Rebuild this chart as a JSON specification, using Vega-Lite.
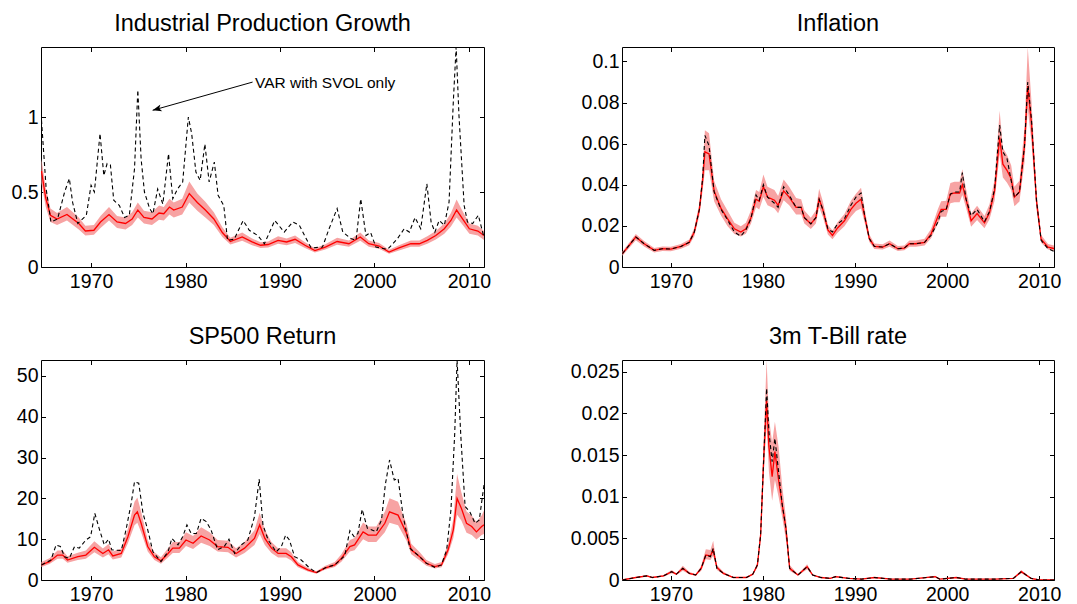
{
  "$schema": "https://vega.github.io/schema/vega-lite/v6.json",
  "background": "white",
  "padding": {"left": 0, "top": 11, "right": 5, "bottom": 5},
  "spacing": 28,
  "config": {
    "font": "Liberation Sans",
    "view": {"stroke": "#000000", "strokeWidth": 1},
    "axis": {
      "domain": false, "grid": false, "ticks": true, "tickSize": -4.5,
      "tickColor": "#000000", "tickWidth": 1,
      "labelFont": "Liberation Sans", "labelFontSize": 19.5, "labelColor": "#000000",
      "labelFlush": false, "labelOverlap": false
    },
    "title": {
      "font": "Liberation Sans", "fontSize": 23.5, "fontWeight": "normal", "color": "#000000",
      "anchor": "middle", "frame": "group", "baseline": "alphabetic", "offset": 10.7
    }
  },
  "datasets": {
    "ip_band": [
      {"t":1964.75,"lo":0.56,"m":0.64,"hi":0.72},{"t":1965.2,"lo":0.40,"m":0.46,"hi":0.53},
      {"t":1965.7,"lo":0.30,"m":0.345,"hi":0.39},{"t":1966.4,"lo":0.28,"m":0.32,"hi":0.36},
      {"t":1967.45,"lo":0.31,"m":0.35,"hi":0.40},{"t":1968.7,"lo":0.25,"m":0.29,"hi":0.33},
      {"t":1969.4,"lo":0.21,"m":0.24,"hi":0.275},{"t":1970.3,"lo":0.215,"m":0.245,"hi":0.28},
      {"t":1971.0,"lo":0.26,"m":0.30,"hi":0.34},{"t":1971.9,"lo":0.31,"m":0.35,"hi":0.40},
      {"t":1972.75,"lo":0.26,"m":0.30,"hi":0.34},{"t":1973.65,"lo":0.25,"m":0.29,"hi":0.33},
      {"t":1974.35,"lo":0.28,"m":0.32,"hi":0.365},{"t":1974.95,"lo":0.33,"m":0.38,"hi":0.43},
      {"t":1975.6,"lo":0.29,"m":0.33,"hi":0.375},{"t":1976.45,"lo":0.28,"m":0.32,"hi":0.365},
      {"t":1977.2,"lo":0.315,"m":0.36,"hi":0.41},{"t":1977.7,"lo":0.31,"m":0.355,"hi":0.40},
      {"t":1978.3,"lo":0.35,"m":0.40,"hi":0.455},{"t":1978.75,"lo":0.33,"m":0.38,"hi":0.43},
      {"t":1979.65,"lo":0.35,"m":0.40,"hi":0.455},{"t":1980.4,"lo":0.43,"m":0.49,"hi":0.57},
      {"t":1981.25,"lo":0.375,"m":0.43,"hi":0.49},{"t":1982.1,"lo":0.33,"m":0.38,"hi":0.435},
      {"t":1983.0,"lo":0.28,"m":0.32,"hi":0.365},{"t":1983.9,"lo":0.20,"m":0.23,"hi":0.265},
      {"t":1984.75,"lo":0.15,"m":0.17,"hi":0.195},{"t":1986.0,"lo":0.175,"m":0.20,"hi":0.23},
      {"t":1987.05,"lo":0.145,"m":0.167,"hi":0.19},{"t":1987.95,"lo":0.127,"m":0.145,"hi":0.165},
      {"t":1988.75,"lo":0.13,"m":0.15,"hi":0.17},{"t":1989.8,"lo":0.155,"m":0.178,"hi":0.205},
      {"t":1990.7,"lo":0.145,"m":0.167,"hi":0.19},{"t":1991.6,"lo":0.16,"m":0.185,"hi":0.21},
      {"t":1992.65,"lo":0.127,"m":0.145,"hi":0.165},{"t":1993.7,"lo":0.097,"m":0.11,"hi":0.125},
      {"t":1994.8,"lo":0.116,"m":0.133,"hi":0.152},{"t":1996.05,"lo":0.148,"m":0.17,"hi":0.195},
      {"t":1997.3,"lo":0.135,"m":0.155,"hi":0.177},{"t":1998.5,"lo":0.175,"m":0.20,"hi":0.23},
      {"t":1999.4,"lo":0.135,"m":0.155,"hi":0.177},{"t":2000.5,"lo":0.122,"m":0.14,"hi":0.16},
      {"t":2001.55,"lo":0.088,"m":0.10,"hi":0.115},{"t":2002.6,"lo":0.11,"m":0.127,"hi":0.145},
      {"t":2003.85,"lo":0.135,"m":0.155,"hi":0.177},{"t":2004.75,"lo":0.135,"m":0.155,"hi":0.177},
      {"t":2005.6,"lo":0.155,"m":0.178,"hi":0.205},{"t":2006.5,"lo":0.183,"m":0.21,"hi":0.24},
      {"t":2007.4,"lo":0.222,"m":0.255,"hi":0.29},{"t":2008.1,"lo":0.27,"m":0.31,"hi":0.36},
      {"t":2008.7,"lo":0.33,"m":0.38,"hi":0.45},{"t":2009.35,"lo":0.28,"m":0.32,"hi":0.37},
      {"t":2010.05,"lo":0.222,"m":0.255,"hi":0.29},{"t":2010.95,"lo":0.21,"m":0.24,"hi":0.275},
      {"t":2011.6,"lo":0.18,"m":0.21,"hi":0.24}
    ],
    "ip_sv": [
      {"t":1964.75,"s":0.98},{"t":1965.25,"s":0.52},{"t":1965.75,"s":0.30},{"t":1966.45,"s":0.32},
      {"t":1967.2,"s":0.50},{"t":1967.7,"s":0.59},{"t":1968.05,"s":0.43},{"t":1968.6,"s":0.29},
      {"t":1969.5,"s":0.345},{"t":1970.0,"s":0.545},{"t":1970.35,"s":0.50},{"t":1970.95,"s":0.89},
      {"t":1971.35,"s":0.61},{"t":1971.7,"s":0.69},{"t":1972.05,"s":0.68},{"t":1972.4,"s":0.445},
      {"t":1973.0,"s":0.41},{"t":1973.55,"s":0.33},{"t":1974.05,"s":0.345},{"t":1974.6,"s":0.655},
      {"t":1974.95,"s":1.18},{"t":1975.3,"s":0.72},{"t":1975.65,"s":0.50},{"t":1976.2,"s":0.39},
      {"t":1976.55,"s":0.355},{"t":1977.05,"s":0.52},{"t":1977.6,"s":0.42},{"t":1978.2,"s":0.755},
      {"t":1978.65,"s":0.455},{"t":1979.15,"s":0.52},{"t":1979.7,"s":0.567},{"t":1980.3,"s":1.0},
      {"t":1980.65,"s":0.89},{"t":1981.1,"s":0.633},{"t":1981.55,"s":0.578},{"t":1982.05,"s":0.82},
      {"t":1982.5,"s":0.567},{"t":1983.05,"s":0.70},{"t":1983.45,"s":0.478},{"t":1984.05,"s":0.41},
      {"t":1984.45,"s":0.178},{"t":1985.15,"s":0.185},{"t":1986.1,"s":0.31},{"t":1986.75,"s":0.245},
      {"t":1987.65,"s":0.21},{"t":1988.35,"s":0.155},{"t":1989.45,"s":0.31},{"t":1990.45,"s":0.233},
      {"t":1991.35,"s":0.30},{"t":1992.05,"s":0.278},{"t":1992.6,"s":0.21},{"t":1993.3,"s":0.127},
      {"t":1994.5,"s":0.133},{"t":1995.2,"s":0.255},{"t":1996.05,"s":0.39},{"t":1996.65,"s":0.233},
      {"t":1997.5,"s":0.19},{"t":1998.05,"s":0.178},{"t":1998.55,"s":0.455},{"t":1999.1,"s":0.21},
      {"t":1999.6,"s":0.23},{"t":2000.15,"s":0.133},{"t":2001.4,"s":0.118},{"t":2002.45,"s":0.19},
      {"t":2003.15,"s":0.255},{"t":2003.7,"s":0.233},{"t":2004.3,"s":0.33},{"t":2004.9,"s":0.255},
      {"t":2005.55,"s":0.555},{"t":2006.0,"s":0.30},{"t":2006.4,"s":0.233},{"t":2006.85,"s":0.31},
      {"t":2007.4,"s":0.278},{"t":2007.9,"s":0.433},{"t":2008.35,"s":1.1},{"t":2008.65,"s":1.467},
      {"t":2008.95,"s":1.01},{"t":2009.5,"s":0.41},{"t":2009.85,"s":0.30},{"t":2010.4,"s":0.29},
      {"t":2011.0,"s":0.345},{"t":2011.55,"s":0.21}
    ],
    "ip_note": [
      {"t0":1976.52,"v0":1.045,"t1":1987.1,"v1":1.233,"tx":1987.35,"vx":1.227,"label":"VAR with SVOL only"}
    ],
    "inf_band": [
      {"t":1964.75,"lo":0.0055,"m":0.0065,"hi":0.0075},{"t":1966.2,"lo":0.0130,"m":0.0146,"hi":0.0160},
      {"t":1967.1,"lo":0.0100,"m":0.0113,"hi":0.0126},{"t":1968.2,"lo":0.0070,"m":0.0081,"hi":0.0092},
      {"t":1969.1,"lo":0.0078,"m":0.0089,"hi":0.0100},{"t":1970.0,"lo":0.0077,"m":0.0087,"hi":0.0098},
      {"t":1971.1,"lo":0.0089,"m":0.0100,"hi":0.0112},{"t":1972.0,"lo":0.0106,"m":0.0120,"hi":0.0134},
      {"t":1972.55,"lo":0.0150,"m":0.0170,"hi":0.0190},{"t":1973.1,"lo":0.0250,"m":0.0280,"hi":0.0310},
      {"t":1973.45,"lo":0.0370,"m":0.0420,"hi":0.0470},{"t":1973.7,"lo":0.0470,"m":0.0560,"hi":0.0665},
      {"t":1974.15,"lo":0.0470,"m":0.0550,"hi":0.0650},{"t":1974.7,"lo":0.0320,"m":0.0370,"hi":0.0420},
      {"t":1975.45,"lo":0.0250,"m":0.0285,"hi":0.0330},{"t":1976.15,"lo":0.0200,"m":0.0235,"hi":0.0275},
      {"t":1976.9,"lo":0.0160,"m":0.0186,"hi":0.0215},{"t":1977.6,"lo":0.0148,"m":0.0170,"hi":0.0198},
      {"t":1978.15,"lo":0.0162,"m":0.0186,"hi":0.0215},{"t":1978.7,"lo":0.0210,"m":0.0240,"hi":0.0275},
      {"t":1979.25,"lo":0.0290,"m":0.0330,"hi":0.0375},{"t":1979.6,"lo":0.0280,"m":0.0320,"hi":0.0365},
      {"t":1980.05,"lo":0.0340,"m":0.0390,"hi":0.0450},{"t":1980.5,"lo":0.0300,"m":0.0340,"hi":0.0390},
      {"t":1981.25,"lo":0.0285,"m":0.0325,"hi":0.0375},{"t":1981.65,"lo":0.0262,"m":0.0300,"hi":0.0345},
      {"t":1982.25,"lo":0.0325,"m":0.0370,"hi":0.0425},{"t":1982.85,"lo":0.0300,"m":0.0340,"hi":0.0390},
      {"t":1983.6,"lo":0.0255,"m":0.0290,"hi":0.0335},{"t":1984.15,"lo":0.0255,"m":0.0290,"hi":0.0330},
      {"t":1984.5,"lo":0.0212,"m":0.0240,"hi":0.0275},{"t":1985.2,"lo":0.0185,"m":0.0210,"hi":0.0240},
      {"t":1985.75,"lo":0.0212,"m":0.0240,"hi":0.0275},{"t":1986.1,"lo":0.0290,"m":0.0330,"hi":0.0380},
      {"t":1986.5,"lo":0.0245,"m":0.0280,"hi":0.0320},{"t":1987.05,"lo":0.0158,"m":0.0180,"hi":0.0206},
      {"t":1987.55,"lo":0.0135,"m":0.0154,"hi":0.0178},{"t":1988.1,"lo":0.0167,"m":0.0190,"hi":0.0218},
      {"t":1988.85,"lo":0.0198,"m":0.0225,"hi":0.0258},{"t":1989.55,"lo":0.0245,"m":0.0280,"hi":0.0322},
      {"t":1990.1,"lo":0.0272,"m":0.0310,"hi":0.0356},{"t":1990.65,"lo":0.0285,"m":0.0330,"hi":0.0385},
      {"t":1991.1,"lo":0.0206,"m":0.0235,"hi":0.0270},{"t":1991.55,"lo":0.0121,"m":0.0138,"hi":0.0158},
      {"t":1992.1,"lo":0.0088,"m":0.0100,"hi":0.0114},{"t":1993.0,"lo":0.0085,"m":0.0097,"hi":0.0111},
      {"t":1993.75,"lo":0.0099,"m":0.0113,"hi":0.0129},{"t":1994.65,"lo":0.0078,"m":0.0089,"hi":0.0102},
      {"t":1995.35,"lo":0.0081,"m":0.0092,"hi":0.0105},{"t":1995.9,"lo":0.0099,"m":0.0113,"hi":0.0129},
      {"t":1996.6,"lo":0.0099,"m":0.0113,"hi":0.0129},{"t":1997.55,"lo":0.0105,"m":0.0120,"hi":0.0137},
      {"t":1998.25,"lo":0.0140,"m":0.0160,"hi":0.0185},{"t":1999.0,"lo":0.0212,"m":0.0245,"hi":0.0282},
      {"t":1999.35,"lo":0.0245,"m":0.0280,"hi":0.0320},{"t":1999.9,"lo":0.0245,"m":0.0280,"hi":0.0322},
      {"t":2000.35,"lo":0.0310,"m":0.0355,"hi":0.0408},{"t":2000.8,"lo":0.0315,"m":0.0360,"hi":0.0415},
      {"t":2001.35,"lo":0.0315,"m":0.0360,"hi":0.0415},{"t":2001.65,"lo":0.0350,"m":0.0400,"hi":0.0475},
      {"t":2002.05,"lo":0.0288,"m":0.0330,"hi":0.0380},{"t":2002.6,"lo":0.0196,"m":0.0225,"hi":0.0260},
      {"t":2003.25,"lo":0.0228,"m":0.0260,"hi":0.0298},{"t":2004.05,"lo":0.0188,"m":0.0215,"hi":0.0248},
      {"t":2004.6,"lo":0.0232,"m":0.0265,"hi":0.0305},{"t":2005.15,"lo":0.0322,"m":0.0370,"hi":0.0425},
      {"t":2005.7,"lo":0.0550,"m":0.0630,"hi":0.0760},{"t":2006.05,"lo":0.0435,"m":0.0500,"hi":0.0580},
      {"t":2006.5,"lo":0.0410,"m":0.0470,"hi":0.0545},{"t":2006.95,"lo":0.0375,"m":0.0430,"hi":0.0495},
      {"t":2007.3,"lo":0.0295,"m":0.0340,"hi":0.0390},{"t":2007.85,"lo":0.0318,"m":0.0365,"hi":0.0420},
      {"t":2008.4,"lo":0.0510,"m":0.0590,"hi":0.0680},{"t":2008.75,"lo":0.0770,"m":0.0880,"hi":0.1070},
      {"t":2009.15,"lo":0.0610,"m":0.0700,"hi":0.0810},{"t":2009.7,"lo":0.0280,"m":0.0320,"hi":0.0370},
      {"t":2010.2,"lo":0.0118,"m":0.0135,"hi":0.0156},{"t":2010.95,"lo":0.0085,"m":0.0097,"hi":0.0112},
      {"t":2011.6,"lo":0.0078,"m":0.0090,"hi":0.0104}
    ],
    "inf_sv": [
      {"t":1964.75,"s":0.0065},{"t":1966.2,"s":0.0146},{"t":1967.1,"s":0.0113},{"t":1968.2,"s":0.0081},
      {"t":1969.1,"s":0.0089},{"t":1970.0,"s":0.0087},{"t":1971.1,"s":0.0100},{"t":1972.0,"s":0.0120},
      {"t":1972.55,"s":0.0170},{"t":1973.1,"s":0.0280},{"t":1973.45,"s":0.0430},{"t":1973.7,"s":0.0640},
      {"t":1974.15,"s":0.0590},{"t":1974.7,"s":0.0365},{"t":1975.45,"s":0.0280},{"t":1976.15,"s":0.0230},
      {"t":1976.9,"s":0.0170},{"t":1977.6,"s":0.0150},{"t":1978.15,"s":0.0180},{"t":1978.7,"s":0.0235},
      {"t":1979.25,"s":0.0350},{"t":1979.6,"s":0.0325},{"t":1980.05,"s":0.0400},{"t":1980.5,"s":0.0340},
      {"t":1981.25,"s":0.0310},{"t":1981.65,"s":0.0290},{"t":1982.25,"s":0.0390},{"t":1982.85,"s":0.0350},
      {"t":1983.6,"s":0.0290},{"t":1984.15,"s":0.0290},{"t":1984.5,"s":0.0240},{"t":1985.2,"s":0.0210},
      {"t":1985.75,"s":0.0240},{"t":1986.1,"s":0.0330},{"t":1986.5,"s":0.0280},{"t":1987.05,"s":0.0186},
      {"t":1987.55,"s":0.0170},{"t":1988.1,"s":0.0210},{"t":1988.85,"s":0.0235},{"t":1989.55,"s":0.0300},
      {"t":1990.1,"s":0.0340},{"t":1990.65,"s":0.0360},{"t":1991.1,"s":0.0235},{"t":1991.55,"s":0.0138},
      {"t":1992.1,"s":0.0100},{"t":1993.0,"s":0.0097},{"t":1993.75,"s":0.0113},{"t":1994.65,"s":0.0089},
      {"t":1995.35,"s":0.0092},{"t":1995.9,"s":0.0113},{"t":1996.6,"s":0.0113},{"t":1997.55,"s":0.0120},
      {"t":1998.25,"s":0.0154},{"t":1999.0,"s":0.0219},{"t":1999.35,"s":0.0270},{"t":1999.9,"s":0.0280},
      {"t":2000.35,"s":0.0355},{"t":2000.8,"s":0.0365},{"t":2001.35,"s":0.0365},{"t":2001.65,"s":0.0459},
      {"t":2002.05,"s":0.0330},{"t":2002.6,"s":0.0250},{"t":2003.25,"s":0.0280},{"t":2004.05,"s":0.0220},
      {"t":2004.6,"s":0.0270},{"t":2005.15,"s":0.0380},{"t":2005.7,"s":0.0690},{"t":2006.05,"s":0.0560},
      {"t":2006.5,"s":0.0527},{"t":2006.95,"s":0.0420},{"t":2007.3,"s":0.0340},{"t":2007.85,"s":0.0365},
      {"t":2008.4,"s":0.0590},{"t":2008.75,"s":0.0900},{"t":2009.15,"s":0.0720},{"t":2009.7,"s":0.0324},
      {"t":2010.2,"s":0.0130},{"t":2010.95,"s":0.0089},{"t":2011.6,"s":0.0076}
    ],
    "sp_band": [
      {"t":1964.75,"lo":3.2,"m":3.7,"hi":4.4},{"t":1965.6,"lo":3.9,"m":4.5,"hi":5.3},
      {"t":1966.45,"lo":5.2,"m":6.1,"hi":7.2},{"t":1967.0,"lo":5.2,"m":6.1,"hi":7.2},
      {"t":1967.5,"lo":4.2,"m":4.9,"hi":5.8},{"t":1968.6,"lo":4.9,"m":5.7,"hi":6.7},
      {"t":1969.45,"lo":5.2,"m":6.1,"hi":7.2},{"t":1970.35,"lo":6.8,"m":8.0,"hi":9.5},
      {"t":1971.25,"lo":5.5,"m":6.5,"hi":7.7},{"t":1971.85,"lo":6.3,"m":7.4,"hi":8.8},
      {"t":1972.3,"lo":5.0,"m":5.9,"hi":7.0},{"t":1973.2,"lo":5.5,"m":6.5,"hi":7.7},
      {"t":1973.9,"lo":9.0,"m":10.6,"hi":12.6},{"t":1974.6,"lo":13.4,"m":15.9,"hi":19.2},
      {"t":1974.9,"lo":14.0,"m":16.7,"hi":20.2},{"t":1975.3,"lo":11.7,"m":13.9,"hi":16.8},
      {"t":1976.0,"lo":7.0,"m":8.2,"hi":9.8},{"t":1976.7,"lo":4.9,"m":5.7,"hi":6.8},
      {"t":1977.4,"lo":4.0,"m":4.7,"hi":5.6},{"t":1978.15,"lo":5.5,"m":6.5,"hi":7.8},
      {"t":1978.65,"lo":6.6,"m":7.8,"hi":9.3},{"t":1979.35,"lo":6.6,"m":7.8,"hi":9.3},
      {"t":1980.05,"lo":8.3,"m":9.8,"hi":11.7},{"t":1980.8,"lo":7.6,"m":9.0,"hi":10.8},
      {"t":1981.65,"lo":9.1,"m":10.8,"hi":12.9},{"t":1982.55,"lo":8.3,"m":9.8,"hi":11.7},
      {"t":1983.4,"lo":7.0,"m":8.2,"hi":9.8},{"t":1984.5,"lo":6.8,"m":8.0,"hi":9.6},
      {"t":1985.35,"lo":5.5,"m":6.5,"hi":7.8},{"t":1986.25,"lo":6.6,"m":7.8,"hi":9.3},
      {"t":1987.3,"lo":8.6,"m":10.2,"hi":12.2},{"t":1987.85,"lo":11.3,"m":13.5,"hi":16.5},
      {"t":1988.4,"lo":8.6,"m":10.2,"hi":12.3},{"t":1989.1,"lo":6.6,"m":7.8,"hi":9.3},
      {"t":1989.8,"lo":5.5,"m":6.5,"hi":7.8},{"t":1990.65,"lo":5.5,"m":6.5,"hi":7.8},
      {"t":1991.2,"lo":4.8,"m":5.7,"hi":6.8},{"t":1991.9,"lo":3.1,"m":3.7,"hi":4.4},
      {"t":1992.95,"lo":2.1,"m":2.5,"hi":3.0},{"t":1993.85,"lo":1.55,"m":1.8,"hi":2.15},
      {"t":1994.75,"lo":2.5,"m":2.9,"hi":3.4},{"t":1995.8,"lo":3.2,"m":3.7,"hi":4.4},
      {"t":1996.5,"lo":4.5,"m":5.3,"hi":6.3},{"t":1997.4,"lo":7.0,"m":8.2,"hi":9.8},
      {"t":1997.9,"lo":7.3,"m":8.6,"hi":10.3},{"t":1998.8,"lo":10.0,"m":11.8,"hi":14.1},
      {"t":1999.35,"lo":9.3,"m":11.0,"hi":13.1},{"t":2000.2,"lo":9.3,"m":11.0,"hi":13.1},
      {"t":2001.1,"lo":11.7,"m":13.9,"hi":16.7},{"t":2001.6,"lo":14.0,"m":16.7,"hi":20.0},
      {"t":2002.5,"lo":13.4,"m":15.9,"hi":19.2},{"t":2003.4,"lo":9.6,"m":11.4,"hi":13.7},
      {"t":2003.9,"lo":6.3,"m":7.4,"hi":8.9},{"t":2004.8,"lo":4.8,"m":5.7,"hi":6.8},
      {"t":2005.5,"lo":3.5,"m":4.1,"hi":4.9},{"t":2006.4,"lo":2.8,"m":3.3,"hi":3.9},
      {"t":2007.1,"lo":3.1,"m":3.7,"hi":4.4},{"t":2007.8,"lo":6.3,"m":7.4,"hi":8.9},
      {"t":2008.35,"lo":10.3,"m":12.3,"hi":14.9},{"t":2008.75,"lo":16.0,"m":20.0,"hi":26.0},
      {"t":2009.2,"lo":14.6,"m":17.6,"hi":21.5},{"t":2009.75,"lo":11.6,"m":13.9,"hi":16.8},
      {"t":2010.3,"lo":11.0,"m":13.1,"hi":15.8},{"t":2010.8,"lo":9.9,"m":11.8,"hi":14.2},
      {"t":2011.35,"lo":11.0,"m":13.1,"hi":15.8},{"t":2011.6,"lo":11.3,"m":13.5,"hi":17.0}
    ],
    "sp_sv": [
      {"t":1964.75,"s":3.7},{"t":1965.75,"s":4.9},{"t":1966.3,"s":8.6},{"t":1966.75,"s":8.2},
      {"t":1967.2,"s":5.7},{"t":1967.7,"s":5.3},{"t":1968.25,"s":8.2},{"t":1968.75,"s":7.8},
      {"t":1969.45,"s":9.8},{"t":1969.95,"s":10.6},{"t":1970.4,"s":16.3},{"t":1970.9,"s":12.3},
      {"t":1971.4,"s":8.6},{"t":1971.85,"s":10.0},{"t":1972.2,"s":7.4},{"t":1973.2,"s":7.2},
      {"t":1973.7,"s":12.3},{"t":1974.25,"s":18.8},{"t":1974.6,"s":24.1},{"t":1975.05,"s":23.7},
      {"t":1975.5,"s":16.3},{"t":1976.0,"s":12.3},{"t":1976.55,"s":6.9},{"t":1977.4,"s":4.5},
      {"t":1978.15,"s":6.9},{"t":1978.55,"s":10.2},{"t":1979.2,"s":8.6},{"t":1979.7,"s":10.6},
      {"t":1980.15,"s":13.5},{"t":1980.6,"s":11.4},{"t":1981.15,"s":11.4},{"t":1981.65,"s":15.1},
      {"t":1982.2,"s":14.3},{"t":1982.7,"s":12.3},{"t":1983.4,"s":7.4},{"t":1984.1,"s":8.2},
      {"t":1984.6,"s":10.0},{"t":1985.2,"s":6.5},{"t":1985.9,"s":8.6},{"t":1986.6,"s":9.8},
      {"t":1987.3,"s":15.5},{"t":1987.8,"s":24.7},{"t":1988.2,"s":13.5},{"t":1988.75,"s":9.8},
      {"t":1989.6,"s":6.9},{"t":1990.15,"s":8.2},{"t":1990.6,"s":11.0},{"t":1991.0,"s":9.8},
      {"t":1991.55,"s":5.7},{"t":1992.25,"s":4.9},{"t":1993.15,"s":2.9},{"t":1993.85,"s":1.8},
      {"t":1994.9,"s":3.1},{"t":1995.8,"s":3.7},{"t":1996.85,"s":5.9},{"t":1997.4,"s":12.1},
      {"t":1997.85,"s":10.6},{"t":1998.25,"s":11.4},{"t":1998.7,"s":17.3},{"t":1999.25,"s":12.7},
      {"t":2000.2,"s":11.8},{"t":2000.75,"s":14.7},{"t":2001.15,"s":23.3},{"t":2001.6,"s":29.4},
      {"t":2002.1,"s":24.5},{"t":2002.5,"s":24.9},{"t":2003.05,"s":15.5},{"t":2003.75,"s":7.8},
      {"t":2004.6,"s":6.1},{"t":2005.5,"s":4.1},{"t":2006.4,"s":3.1},{"t":2007.1,"s":3.7},
      {"t":2007.65,"s":7.4},{"t":2008.1,"s":17.2},{"t":2008.5,"s":35.9},{"t":2008.75,"s":53.9},
      {"t":2009.15,"s":35.1},{"t":2009.6,"s":18.0},{"t":2010.1,"s":16.7},{"t":2010.65,"s":13.9},
      {"t":2011.1,"s":14.7},{"t":2011.6,"s":23.3}
    ],
    "tb_band": [
      {"t":1964.75,"lo":0.0,"m":0.0,"hi":0.0001},{"t":1966.2,"lo":0.00025,"m":0.0003,"hi":0.00035},
      {"t":1967.4,"lo":0.0004,"m":0.0005,"hi":0.0006},{"t":1968.0,"lo":0.00025,"m":0.0003,"hi":0.00035},
      {"t":1969.2,"lo":0.0004,"m":0.0005,"hi":0.0006},{"t":1970.1,"lo":0.0008,"m":0.0010,"hi":0.0012},
      {"t":1970.6,"lo":0.0006,"m":0.0007,"hi":0.0008},{"t":1971.3,"lo":0.0011,"m":0.0014,"hi":0.0017},
      {"t":1972.0,"lo":0.0007,"m":0.0008,"hi":0.0010},{"t":1972.7,"lo":0.0005,"m":0.0006,"hi":0.0007},
      {"t":1973.3,"lo":0.0011,"m":0.0014,"hi":0.0017},{"t":1973.8,"lo":0.0025,"m":0.0030,"hi":0.0037},
      {"t":1974.3,"lo":0.0024,"m":0.0029,"hi":0.0036},{"t":1974.6,"lo":0.0029,"m":0.0036,"hi":0.0047},
      {"t":1975.0,"lo":0.0012,"m":0.0015,"hi":0.0018},{"t":1975.7,"lo":0.0007,"m":0.0008,"hi":0.0010},
      {"t":1976.8,"lo":0.00025,"m":0.0003,"hi":0.00035},{"t":1978.2,"lo":0.00025,"m":0.0003,"hi":0.00035},
      {"t":1978.9,"lo":0.0006,"m":0.0007,"hi":0.0008},{"t":1979.4,"lo":0.0015,"m":0.0018,"hi":0.0021},
      {"t":1979.75,"lo":0.0047,"m":0.0054,"hi":0.0062},{"t":1980.1,"lo":0.0130,"m":0.0150,"hi":0.0175},
      {"t":1980.4,"lo":0.0185,"m":0.0215,"hi":0.0264},{"t":1980.65,"lo":0.0130,"m":0.0160,"hi":0.0195},
      {"t":1981.0,"lo":0.0095,"m":0.0124,"hi":0.0165},{"t":1981.3,"lo":0.0120,"m":0.0154,"hi":0.0190},
      {"t":1981.7,"lo":0.0100,"m":0.0120,"hi":0.0160},{"t":1982.1,"lo":0.0075,"m":0.0090,"hi":0.0112},
      {"t":1982.5,"lo":0.0048,"m":0.0062,"hi":0.0075},{"t":1982.9,"lo":0.0011,"m":0.0014,"hi":0.0018},
      {"t":1983.8,"lo":0.0005,"m":0.0006,"hi":0.0007},{"t":1984.8,"lo":0.0013,"m":0.0016,"hi":0.0019},
      {"t":1985.4,"lo":0.0005,"m":0.0006,"hi":0.0007},{"t":1986.3,"lo":0.00025,"m":0.0003,"hi":0.00035},
      {"t":1987.3,"lo":0.00015,"m":0.0002,"hi":0.00025},{"t":1987.9,"lo":0.0003,"m":0.0004,"hi":0.0005},
      {"t":1989.3,"lo":0.00015,"m":0.0002,"hi":0.00025},{"t":1990.7,"lo":0.00008,"m":0.0001,"hi":0.00012},
      {"t":1992.1,"lo":0.00025,"m":0.0003,"hi":0.00035},{"t":1993.9,"lo":0.00008,"m":0.0001,"hi":0.00012},
      {"t":1996.0,"lo":0.00008,"m":0.0001,"hi":0.00012},{"t":1998.7,"lo":0.0003,"m":0.0004,"hi":0.0005},
      {"t":1999.2,"lo":0.00008,"m":0.0001,"hi":0.00012},{"t":2001.0,"lo":0.00025,"m":0.0003,"hi":0.00035},
      {"t":2002.0,"lo":0.00008,"m":0.0001,"hi":0.00012},{"t":2005.2,"lo":0.00008,"m":0.0001,"hi":0.00012},
      {"t":2007.2,"lo":0.00015,"m":0.0002,"hi":0.00025},{"t":2008.05,"lo":0.0008,"m":0.0010,"hi":0.0012},
      {"t":2009.1,"lo":0.00015,"m":0.0002,"hi":0.00025},{"t":2010.0,"lo":0.0,"m":0.0,"hi":0.00005},
      {"t":2011.6,"lo":0.0,"m":0.0,"hi":0.00005}
    ],
    "tb_sv": [
      {"t":1964.75,"s":0.0},{"t":1966.2,"s":0.0003},{"t":1967.4,"s":0.0005},{"t":1968.0,"s":0.0003},
      {"t":1969.2,"s":0.0005},{"t":1970.1,"s":0.0010},{"t":1970.6,"s":0.0007},{"t":1971.3,"s":0.0014},
      {"t":1972.0,"s":0.0008},{"t":1972.7,"s":0.0006},{"t":1973.3,"s":0.0014},{"t":1973.8,"s":0.0030},
      {"t":1974.3,"s":0.0028},{"t":1974.6,"s":0.0038},{"t":1975.0,"s":0.0014},{"t":1975.7,"s":0.0008},
      {"t":1976.8,"s":0.0003},{"t":1978.2,"s":0.0003},{"t":1978.9,"s":0.0007},{"t":1979.4,"s":0.0018},
      {"t":1979.75,"s":0.0054},{"t":1980.1,"s":0.0150},{"t":1980.4,"s":0.0230},{"t":1980.65,"s":0.0178},
      {"t":1981.0,"s":0.0142},{"t":1981.3,"s":0.0170},{"t":1981.7,"s":0.0130},{"t":1982.1,"s":0.0090},
      {"t":1982.5,"s":0.0062},{"t":1982.9,"s":0.0014},{"t":1983.8,"s":0.0006},{"t":1984.8,"s":0.0016},
      {"t":1985.4,"s":0.0006},{"t":1986.3,"s":0.0003},{"t":1987.3,"s":0.0002},{"t":1987.9,"s":0.0004},
      {"t":1989.3,"s":0.0002},{"t":1990.7,"s":0.0001},{"t":1992.1,"s":0.0003},{"t":1993.9,"s":0.0001},
      {"t":1996.0,"s":0.0001},{"t":1998.7,"s":0.0004},{"t":1999.2,"s":0.0001},{"t":2001.0,"s":0.0003},
      {"t":2002.0,"s":0.0001},{"t":2005.2,"s":0.0001},{"t":2007.2,"s":0.0002},{"t":2008.05,"s":0.0010},
      {"t":2009.1,"s":0.0002},{"t":2010.0,"s":0.0},{"t":2011.6,"s":0.0}
    ]
  },
  "vconcat": [
    {
      "spacing": 69,
      "hconcat": [
        {
          "width": 443, "height": 220,
          "title": "Industrial Production Growth",
          "layer": [
            {"data": {"name": "ip_band"}, "mark": {"type": "area", "color": "#F7A3A3", "opacity": 1, "clip": true},
             "encoding": {
               "x": {"field": "t", "type": "quantitative", "scale": {"domain": [1964.7, 2011.6], "nice": false, "zero": false},
                     "axis": {"orient": "bottom", "title": null, "values": [1970, 1980, 1990, 2000, 2010], "format": "d", "labelPadding": 9.5, "minExtent": 28, "maxExtent": 28}},
               "y": {"field": "lo", "type": "quantitative", "scale": {"domain": [0, 1.467], "nice": false, "zero": false},
                     "axis": {"orient": "left", "title": null, "values": [0, 0.5, 1], "format": "~f", "labelPadding": 7.5, "minExtent": 40, "maxExtent": 40}},
               "y2": {"field": "hi"}}},
            {"data": {"name": "ip_band"}, "mark": {"type": "line", "color": "#FF0000", "strokeWidth": 1.3, "clip": true},
             "encoding": {
               "x": {"field": "t", "type": "quantitative", "scale": {"domain": [1964.7, 2011.6], "nice": false, "zero": false}, "axis": null},
               "y": {"field": "m", "type": "quantitative", "scale": {"domain": [0, 1.467], "nice": false, "zero": false}, "axis": null}}},
            {"data": {"name": "ip_sv"}, "mark": {"type": "line", "color": "#000000", "strokeWidth": 1.1, "strokeDash": [4, 3], "clip": true},
             "encoding": {
               "x": {"field": "t", "type": "quantitative", "scale": {"domain": [1964.7, 2011.6], "nice": false, "zero": false},
                     "axis": {"orient": "top", "title": null, "values": [1970, 1980, 1990, 2000, 2010], "labels": false, "minExtent": 0, "maxExtent": 0}},
               "y": {"field": "s", "type": "quantitative", "scale": {"domain": [0, 1.467], "nice": false, "zero": false},
                     "axis": {"orient": "right", "title": null, "values": [0, 0.5, 1], "labels": false, "minExtent": 0, "maxExtent": 0}}}},
            {"data": {"name": "ip_note"}, "mark": {"type": "rule", "color": "#000000", "strokeWidth": 1},
             "encoding": {
               "x": {"field": "t0", "type": "quantitative", "scale": {"domain": [1964.7, 2011.6], "nice": false, "zero": false}, "axis": null},
               "y": {"field": "v0", "type": "quantitative", "scale": {"domain": [0, 1.467], "nice": false, "zero": false}, "axis": null},
               "x2": {"field": "t1"}, "y2": {"field": "v1"}}},
            {"data": {"name": "ip_note"}, "mark": {"type": "point", "shape": "M0,0L1,-0.38L0.75,0L1,0.38Z", "filled": true, "color": "#000000", "opacity": 1, "size": 324, "angle": 344.4},
             "encoding": {
               "x": {"field": "t0", "type": "quantitative", "scale": {"domain": [1964.7, 2011.6], "nice": false, "zero": false}, "axis": null},
               "y": {"field": "v0", "type": "quantitative", "scale": {"domain": [0, 1.467], "nice": false, "zero": false}, "axis": null}}},
            {"data": {"name": "ip_note"}, "mark": {"type": "text", "align": "left", "baseline": "middle", "font": "Liberation Sans", "fontSize": 15.5, "color": "#000000"},
             "encoding": {
               "x": {"field": "tx", "type": "quantitative", "scale": {"domain": [1964.7, 2011.6], "nice": false, "zero": false}, "axis": null},
               "y": {"field": "vx", "type": "quantitative", "scale": {"domain": [0, 1.467], "nice": false, "zero": false}, "axis": null},
               "text": {"field": "label"}}}
          ],
          "resolve": {"axis": {"x": "independent", "y": "independent"}}
        },
        {
          "width": 432, "height": 220,
          "title": "Inflation",
          "layer": [
            {"data": {"name": "inf_band"}, "mark": {"type": "area", "color": "#F7A3A3", "opacity": 1, "clip": true},
             "encoding": {
               "x": {"field": "t", "type": "quantitative", "scale": {"domain": [1964.7, 2011.6], "nice": false, "zero": false},
                     "axis": {"orient": "bottom", "title": null, "values": [1970, 1980, 1990, 2000, 2010], "format": "d", "labelPadding": 9.5, "minExtent": 28, "maxExtent": 28}},
               "y": {"field": "lo", "type": "quantitative", "scale": {"domain": [0, 0.107], "nice": false, "zero": false},
                     "axis": {"orient": "left", "title": null, "values": [0, 0.02, 0.04, 0.06, 0.08, 0.1], "format": "~f", "labelPadding": 7.5, "minExtent": 60, "maxExtent": 60}},
               "y2": {"field": "hi"}}},
            {"data": {"name": "inf_band"}, "mark": {"type": "line", "color": "#FF0000", "strokeWidth": 1.3, "clip": true},
             "encoding": {
               "x": {"field": "t", "type": "quantitative", "scale": {"domain": [1964.7, 2011.6], "nice": false, "zero": false}, "axis": null},
               "y": {"field": "m", "type": "quantitative", "scale": {"domain": [0, 0.107], "nice": false, "zero": false}, "axis": null}}},
            {"data": {"name": "inf_sv"}, "mark": {"type": "line", "color": "#000000", "strokeWidth": 1.1, "strokeDash": [4, 3], "clip": true},
             "encoding": {
               "x": {"field": "t", "type": "quantitative", "scale": {"domain": [1964.7, 2011.6], "nice": false, "zero": false},
                     "axis": {"orient": "top", "title": null, "values": [1970, 1980, 1990, 2000, 2010], "labels": false, "minExtent": 0, "maxExtent": 0}},
               "y": {"field": "s", "type": "quantitative", "scale": {"domain": [0, 0.107], "nice": false, "zero": false},
                     "axis": {"orient": "right", "title": null, "values": [0, 0.02, 0.04, 0.06, 0.08, 0.1], "labels": false, "minExtent": 0, "maxExtent": 0}}}}
          ],
          "resolve": {"axis": {"x": "independent", "y": "independent"}}
        }
      ]
    },
    {
      "spacing": 69,
      "hconcat": [
        {
          "width": 443, "height": 220,
          "title": "SP500 Return",
          "layer": [
            {"data": {"name": "sp_band"}, "mark": {"type": "area", "color": "#F7A3A3", "opacity": 1, "clip": true},
             "encoding": {
               "x": {"field": "t", "type": "quantitative", "scale": {"domain": [1964.7, 2011.6], "nice": false, "zero": false},
                     "axis": {"orient": "bottom", "title": null, "values": [1970, 1980, 1990, 2000, 2010], "format": "d", "labelPadding": 9.5, "minExtent": 28, "maxExtent": 28}},
               "y": {"field": "lo", "type": "quantitative", "scale": {"domain": [0, 53.9], "nice": false, "zero": false},
                     "axis": {"orient": "left", "title": null, "values": [0, 10, 20, 30, 40, 50], "format": "~f", "labelPadding": 7.5, "minExtent": 40, "maxExtent": 40}},
               "y2": {"field": "hi"}}},
            {"data": {"name": "sp_band"}, "mark": {"type": "line", "color": "#FF0000", "strokeWidth": 1.3, "clip": true},
             "encoding": {
               "x": {"field": "t", "type": "quantitative", "scale": {"domain": [1964.7, 2011.6], "nice": false, "zero": false}, "axis": null},
               "y": {"field": "m", "type": "quantitative", "scale": {"domain": [0, 53.9], "nice": false, "zero": false}, "axis": null}}},
            {"data": {"name": "sp_sv"}, "mark": {"type": "line", "color": "#000000", "strokeWidth": 1.1, "strokeDash": [4, 3], "clip": true},
             "encoding": {
               "x": {"field": "t", "type": "quantitative", "scale": {"domain": [1964.7, 2011.6], "nice": false, "zero": false},
                     "axis": {"orient": "top", "title": null, "values": [1970, 1980, 1990, 2000, 2010], "labels": false, "minExtent": 0, "maxExtent": 0}},
               "y": {"field": "s", "type": "quantitative", "scale": {"domain": [0, 53.9], "nice": false, "zero": false},
                     "axis": {"orient": "right", "title": null, "values": [0, 10, 20, 30, 40, 50], "labels": false, "minExtent": 0, "maxExtent": 0}}}}
          ],
          "resolve": {"axis": {"x": "independent", "y": "independent"}}
        },
        {
          "width": 432, "height": 220,
          "title": "3m T-Bill rate",
          "layer": [
            {"data": {"name": "tb_band"}, "mark": {"type": "area", "color": "#F7A3A3", "opacity": 1, "clip": true},
             "encoding": {
               "x": {"field": "t", "type": "quantitative", "scale": {"domain": [1964.7, 2011.6], "nice": false, "zero": false},
                     "axis": {"orient": "bottom", "title": null, "values": [1970, 1980, 1990, 2000, 2010], "format": "d", "labelPadding": 9.5, "minExtent": 28, "maxExtent": 28}},
               "y": {"field": "lo", "type": "quantitative", "scale": {"domain": [0, 0.0264], "nice": false, "zero": false},
                     "axis": {"orient": "left", "title": null, "values": [0, 0.005, 0.01, 0.015, 0.02, 0.025], "format": "~f", "labelPadding": 7.5, "minExtent": 60, "maxExtent": 60}},
               "y2": {"field": "hi"}}},
            {"data": {"name": "tb_band"}, "mark": {"type": "line", "color": "#FF0000", "strokeWidth": 1.3, "clip": true},
             "encoding": {
               "x": {"field": "t", "type": "quantitative", "scale": {"domain": [1964.7, 2011.6], "nice": false, "zero": false}, "axis": null},
               "y": {"field": "m", "type": "quantitative", "scale": {"domain": [0, 0.0264], "nice": false, "zero": false}, "axis": null}}},
            {"data": {"name": "tb_sv"}, "mark": {"type": "line", "color": "#000000", "strokeWidth": 1.1, "strokeDash": [4, 3], "clip": true},
             "encoding": {
               "x": {"field": "t", "type": "quantitative", "scale": {"domain": [1964.7, 2011.6], "nice": false, "zero": false},
                     "axis": {"orient": "top", "title": null, "values": [1970, 1980, 1990, 2000, 2010], "labels": false, "minExtent": 0, "maxExtent": 0}},
               "y": {"field": "s", "type": "quantitative", "scale": {"domain": [0, 0.0264], "nice": false, "zero": false},
                     "axis": {"orient": "right", "title": null, "values": [0, 0.005, 0.01, 0.015, 0.02, 0.025], "labels": false, "minExtent": 0, "maxExtent": 0}}}}
          ],
          "resolve": {"axis": {"x": "independent", "y": "independent"}}
        }
      ]
    }
  ]
}
